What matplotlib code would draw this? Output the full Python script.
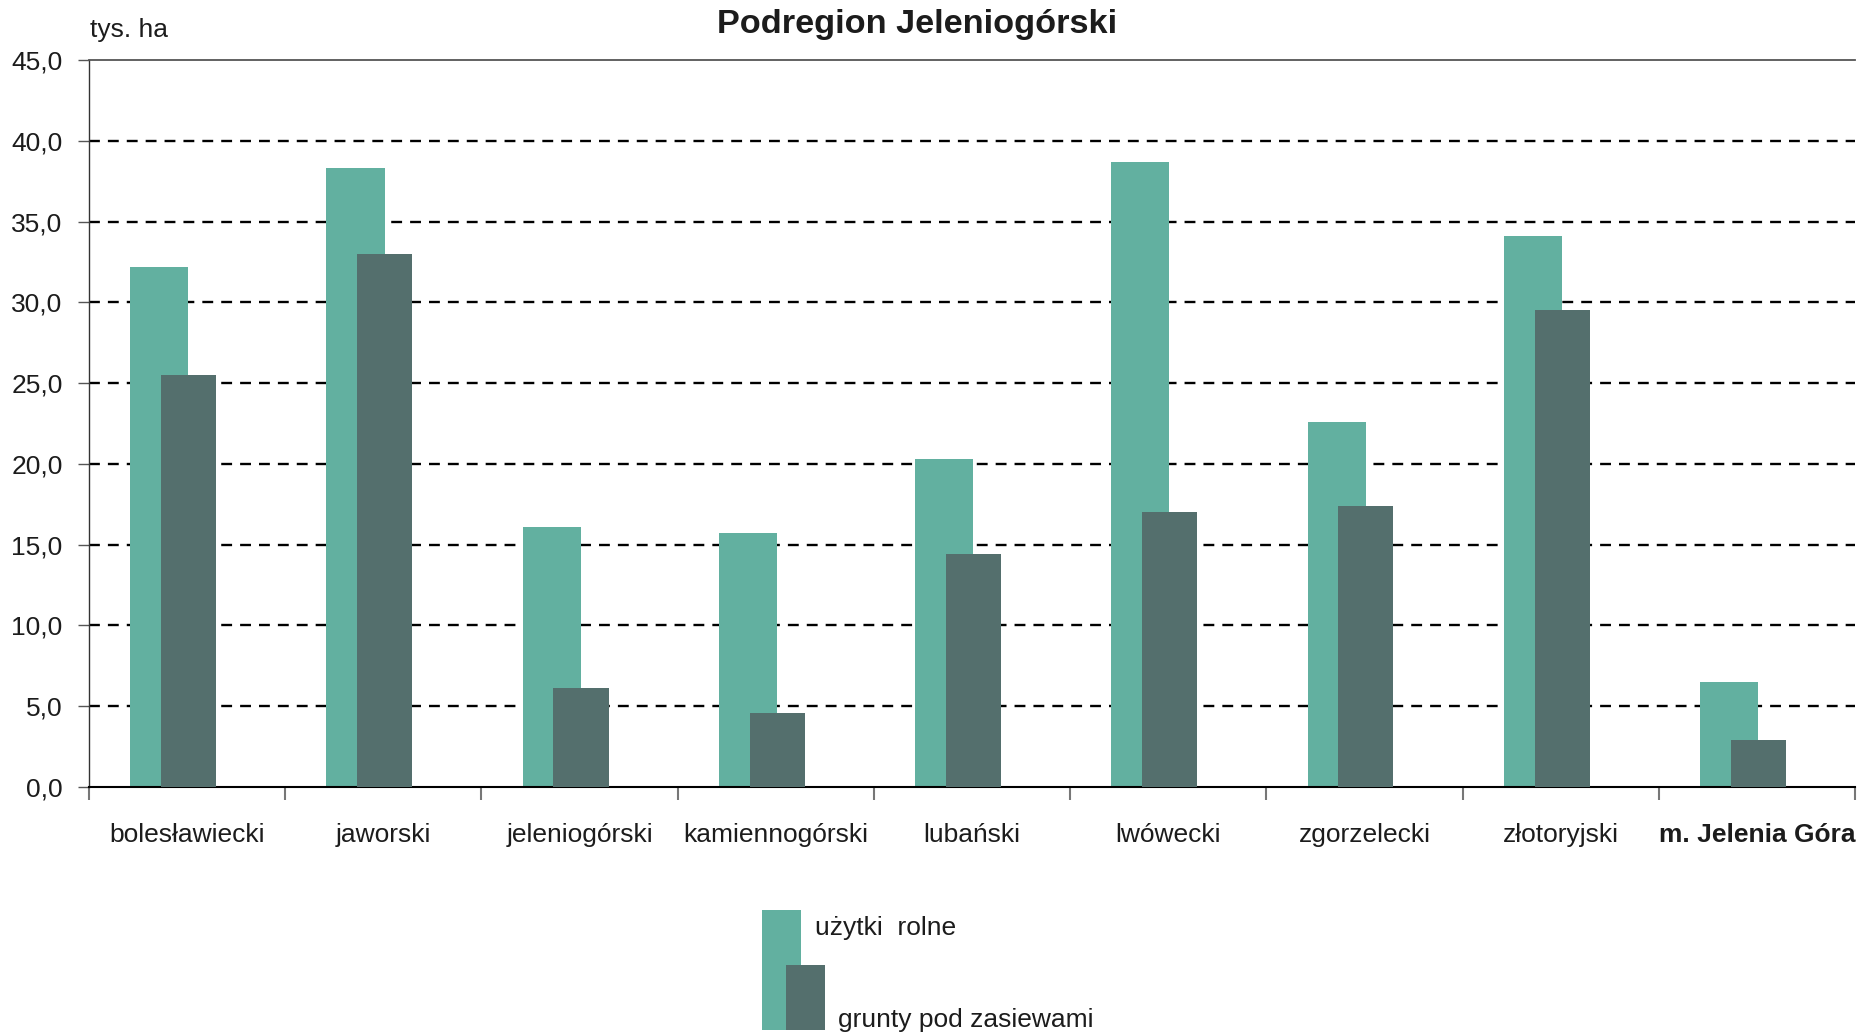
import numpy as np
from matplotlib import pyplot as plt
from matplotlib.patches import Rectangle

plt.rcParams["font.family"] = ["Liberation Sans", "DejaVu Sans"]

# dane (tys. ha)
powiaty = [
    "bolesławiecki",
    "jaworski",
    "jeleniogórski",
    "kamiennogórski",
    "lubański",
    "lwówecki",
    "zgorzelecki",
    "złotoryjski",
    "m. Jelenia Góra",
]
uzytki_rolne = [32.2, 38.3, 16.1, 15.7, 20.3, 38.7, 22.6, 34.1, 6.5]
grunty_pod_zasiewami = [25.5, 33.0, 6.1, 4.6, 14.4, 17.0, 17.4, 29.5, 2.9]
y_ticks = [0, 5, 10, 15, 20, 25, 30, 35, 40, 45]

LIGHT = "#62B0A0"
DARK = "#546F6D"
TXT = "#1c1c1c"
FS = 19

W, H = 1860, 1034


def fx(px):
    return px / W


def fy(py):
    return 1 - py / H


fig = plt.figure(figsize=(W / 100, H / 100), dpi=100)
ax = fig.add_axes([fx(89), fy(787), fx(1855) - fx(89), fy(60) - fy(787)])

x = np.arange(len(powiaty))
ax.bar(x - 0.29, uzytki_rolne, width=0.296, align="edge", color=LIGHT, zorder=2)
ax.bar(x - 0.133, grunty_pod_zasiewami, width=0.281, align="edge", color=DARK, zorder=3)

ax.set_xlim(-0.5, len(powiaty) - 0.5)
ax.set_ylim(0, 45)

ax.set_yticks(y_ticks)
ax.set_yticklabels([f"{v:.1f}".replace(".", ",") for v in y_ticks])
ax.tick_params(axis="y", length=8, width=1, color="#555555", pad=11,
               labelsize=FS, labelcolor=TXT)

ax.set_xticks(x)
ax.set_xticklabels(powiaty)
ax.set_xticks(np.arange(len(powiaty) + 1) - 0.5, minor=True)
ax.tick_params(axis="x", which="major", length=0, pad=26, labelsize=FS, labelcolor=TXT)
ax.tick_params(axis="x", which="minor", length=9.5, width=1.5, color="#777777")
ax.get_xticklabels()[-1].set_fontweight("bold")

ax.grid(axis="y", color="black", linewidth=1.7, linestyle=(0, (4.6, 3.4)), zorder=1)
grid_lines = ax.get_ygridlines()
grid_lines[0].set_visible(False)
grid_lines[-1].set_visible(False)
ax.set_axisbelow(True)

ax.spines["right"].set_visible(False)
ax.spines["top"].set_color("#555555")
ax.spines["top"].set_linewidth(1.3)
ax.spines["left"].set_color("#333333")
ax.spines["left"].set_linewidth(1.0)
ax.spines["bottom"].set_color("black")
ax.spines["bottom"].set_linewidth(1.5)

fig.text(fx(917), fy(33), "Podregion Jeleniogórski", ha="center", va="baseline",
         fontsize=24.7, fontweight="bold", color=TXT)
fig.text(fx(90), fy(37), "tys. ha", ha="left", va="baseline", fontsize=FS, color=TXT)

# legenda rysowana recznie
fig.add_artist(Rectangle((fx(762), fy(1030)), fx(801) - fx(762), fy(910) - fy(1030),
                         transform=fig.transFigure, color=LIGHT, lw=0))
fig.add_artist(Rectangle((fx(786), fy(1030)), fx(825) - fx(786), fy(965) - fy(1030),
                         transform=fig.transFigure, color=DARK, lw=0))
fig.text(fx(815), fy(935), "użytki  rolne", ha="left", va="baseline", fontsize=FS, color=TXT)
fig.text(fx(838), fy(1027), "grunty pod zasiewami", ha="left", va="baseline",
         fontsize=FS, color=TXT)

fig.savefig("out.png", dpi=100)
plt.close(fig)
